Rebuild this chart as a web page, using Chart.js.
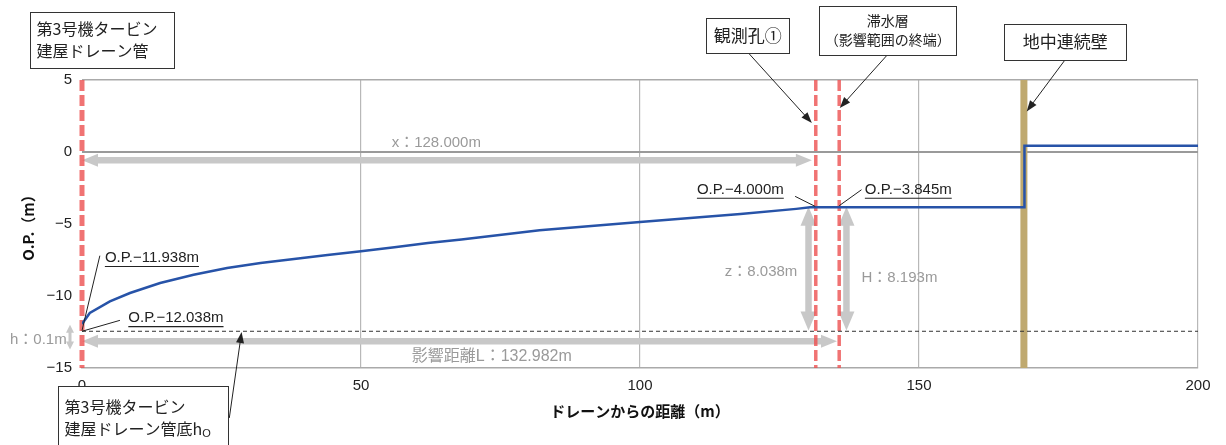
<!DOCTYPE html>
<html>
<head>
<meta charset="utf-8">
<script src="https://cdn.jsdelivr.net/npm/chart.js@4.4.1/dist/chart.umd.min.js"></script>
<style>body{margin:0;background:#fff}</style>
</head>
<body>
<canvas id="myChart" width="1226" height="445"></canvas>
<script>
// Distance from drain (m) and groundwater level O.P. (m)
const distX  = [0, 1.4, 5, 8.6, 14, 20, 26, 32, 38, 44, 50, 56, 62, 68, 82, 100, 118, 128, 130.5, 168.9, 168.9, 200];
const levelY = [-11.94, -11.18, -10.37, -9.79, -9.10, -8.52, -8.06, -7.71, -7.43, -7.15, -6.90, -6.62, -6.32, -6.07, -5.44, -4.86, -4.31, -3.95, -3.845, -3.845, 0.44, 0.44];
const drainBottom = -12.45;          // drain pipe bottom h0
const holeX = [0, 131.5, 135.7];      // drain, observation hole, end of influence
const wallX = 168.8;                  // diaphragm wall
const yTicks = [-15, 5];

const CJK = "'Noto Sans CJK JP', sans-serif";
const LAT = "'Liberation Sans', 'Noto Sans CJK JP', sans-serif";

// text boxes (centre in data coords)
const boxes = [
  { at: [3.6, 7.8], w: 144, h: 56, lines: ['第3号機タービン', '建屋ドレーン管'], size: 16, align: 'left' },
  { at: [119.3, 8.11], w: 83, h: 35, lines: ['観測孔①'], size: 17 },
  { at: [144.4, 8.46], w: 137, h: 49, lines: ['滞水層', '（影響範囲の終端）'], size: 14 },
  { at: [176.2, 7.66], w: 122, h: 36, lines: ['地中連続壁'], size: 17 },
  { at: [10.95, -18.9], w: 170, h: 76, lines: ['第3号機タービン', '建屋ドレーン管底h'], size: 16, align: 'left', sub: 'O' }
];
// black leader arrows
const leaders = [
  { from: [119.4, 6.89], to: [130.8, 2.01], head: true },
  { from: [144.2, 6.69], to: [135.8, 3.06], head: true },
  { from: [176.2, 6.41], to: [169.3, 2.82], head: true },
  { from: [26.4, -18.47], to: [28.6, -12.5], head: true },
  { from: [3.2, -7.2], to: [0, -12.4] },
  { from: [6.8, -11.69], to: [0, -12.45] },
  { from: [127.8, -3.08], to: [131.4, -3.78] },
  { from: [139.7, -2.62], to: [135.7, -3.73] }
];
const opLabels = [
  { at: [4.1, -7.36], text: 'O.P.−11.938m' },
  { at: [8.3, -11.53], text: 'O.P.−12.038m' },
  { at: [110.2, -2.62], text: 'O.P.−4.000m' },
  { at: [140.3, -2.62], text: 'O.P.−3.845m' }
];
const grayLabels = [
  { at: [55.5, 0.65], text: 'x：128.000m', size: 15 },
  { at: [59.1, -14.19], text: '影響距離L：132.982m', size: 16 },
  { at: [115.2, -8.29], text: 'z：8.038m', size: 15 },
  { at: [139.7, -8.75], text: 'H：8.193m', size: 15 },
  { at: [-12.9, -13.03], text: 'h：0.1m', size: 15 }
];
const grayArrows = [
  { from: [0, -0.58], to: [130.8, -0.58], width: 6.5, len: 16, head: 13 },
  { from: [0, -13.15], to: [135.3, -13.15], width: 6.5, len: 16, head: 13 },
  { from: [130.2, -3.8], to: [130.2, -12.4], width: 6.5, len: 19, head: 16 },
  { from: [137.0, -3.8], to: [137.0, -12.4], width: 6.5, len: 19, head: 16 },
  { from: [-2.15, -11.99], to: [-2.15, -13.72], width: 3, len: 8, head: 8 }
];

function toPx(chart, p) {
  return [chart.scales.x.getPixelForValue(p[0]), chart.scales.y.getPixelForValue(p[1])];
}

function arrowHead(ctx, x, y, ang, len, w) {
  const c = Math.cos(ang), s = Math.sin(ang);
  ctx.beginPath();
  ctx.moveTo(x, y);
  ctx.lineTo(x - len * c + w / 2 * s, y - len * s - w / 2 * c);
  ctx.lineTo(x - len * c - w / 2 * s, y - len * s + w / 2 * c);
  ctx.closePath();
  ctx.fill();
}

function arrow(ctx, a, b, width, len, head, both) {
  const ang = Math.atan2(b[1] - a[1], b[0] - a[0]);
  const c = Math.cos(ang), s = Math.sin(ang);
  const sa = both ? [a[0] + len * c * 0.8, a[1] + len * s * 0.8] : a;
  const sb = [b[0] - len * c * 0.8, b[1] - len * s * 0.8];
  ctx.lineWidth = width;
  ctx.beginPath();
  ctx.moveTo(sa[0], sa[1]);
  ctx.lineTo(sb[0], sb[1]);
  ctx.stroke();
  arrowHead(ctx, b[0], b[1], ang, len, head);
  if (both) arrowHead(ctx, a[0], a[1], ang + Math.PI, len, head);
}

const notes = {
  id: 'notes',
  beforeDatasetsDraw(chart) {
    const ctx = chart.ctx;
    ctx.save();
    ctx.strokeStyle = '#c8c8c8';
    ctx.fillStyle = '#c8c8c8';
    grayArrows.forEach(g => arrow(ctx, toPx(chart, g.from), toPx(chart, g.to), g.width, g.len, g.head, true));
    ctx.restore();
  },
  afterDraw(chart) {
    const ctx = chart.ctx;
    ctx.save();
    // leaders
    ctx.strokeStyle = '#222';
    ctx.fillStyle = '#222';
    leaders.forEach(l => {
      const a = toPx(chart, l.from), b = toPx(chart, l.to);
      if (l.head) {
        arrow(ctx, a, b, 1, 11, 8, false);
      } else {
        ctx.lineWidth = 1;
        ctx.beginPath(); ctx.moveTo(a[0], a[1]); ctx.lineTo(b[0], b[1]); ctx.stroke();
      }
    });
    // boxes
    boxes.forEach(bx => {
      const c = toPx(chart, bx.at);
      const x0 = Math.round(c[0] - bx.w / 2) + 0.5, y0 = Math.round(c[1] - bx.h / 2) + 0.5;
      ctx.fillStyle = '#fff';
      ctx.fillRect(x0, y0, bx.w, bx.h);
      ctx.strokeStyle = '#333';
      ctx.lineWidth = 1;
      ctx.strokeRect(x0, y0, bx.w, bx.h);
      ctx.fillStyle = '#222';
      ctx.font = bx.size + 'px ' + CJK;
      ctx.textBaseline = 'middle';
      const lh = bx.size * 1.4;
      const top = bx.sub ? y0 + 20 : c[1] - lh * (bx.lines.length - 1) / 2;
      bx.lines.forEach((t, i) => {
        const y = top + i * lh;
        if (bx.align === 'left') {
          ctx.textAlign = 'left';
          ctx.fillText(t, x0 + 6, y);
          if (bx.sub && i === bx.lines.length - 1) {
            const w = ctx.measureText(t).width;
            ctx.font = '11px ' + LAT;
            ctx.fillText(bx.sub, x0 + 6 + w, y + 5);
            ctx.font = bx.size + 'px ' + CJK;
          }
        } else {
          ctx.textAlign = 'center';
          ctx.fillText(t, c[0], y);
        }
      });
    });
    // O.P. labels, underlined
    ctx.font = '15px ' + LAT;
    ctx.textAlign = 'left';
    ctx.textBaseline = 'middle';
    ctx.fillStyle = '#222';
    ctx.strokeStyle = '#222';
    opLabels.forEach(l => {
      const p = toPx(chart, l.at);
      ctx.fillText(l.text, p[0], p[1]);
      const w = ctx.measureText(l.text).width;
      ctx.lineWidth = 1.2;
      ctx.beginPath(); ctx.moveTo(p[0], p[1] + 8.5); ctx.lineTo(p[0] + w, p[1] + 8.5); ctx.stroke();
    });
    ctx.fillStyle = '#9a9a9a';
    grayLabels.forEach(l => {
      const p = toPx(chart, l.at);
      ctx.font = l.size + 'px ' + LAT;
      ctx.fillText(l.text, p[0], p[1]);
    });
    ctx.restore();
  }
};

function vline(x, width, color, dash) {
  return {
    data: [{ x: x, y: yTicks[1] }, { x: x, y: yTicks[0] }],
    borderColor: color, borderWidth: width, borderDash: dash || [],
    pointRadius: 0, clip: false
  };
}

const redDash = 'rgba(236, 80, 80, 0.8)';
const ctx = document.getElementById('myChart').getContext('2d');
const myChart = new Chart(ctx, {
  type: 'line',
  data: {
    datasets: [
      {
        data: distX.map((x, i) => ({ x: x, y: levelY[i] })),
        borderColor: '#2753a8', borderWidth: 2.5, pointRadius: 0, tension: 0
      },
      {
        data: [{ x: 0, y: drainBottom }, { x: 200, y: drainBottom }],
        borderColor: '#333', borderWidth: 1, borderDash: [4, 3], pointRadius: 0
      },
      vline(holeX[0], 5, redDash, [11, 4]),
      vline(holeX[1], 3.5, redDash, [11, 4]),
      vline(holeX[2], 3.5, redDash, [11, 4]),
      vline(wallX, 7, '#bfa96f')
    ]
  },
  options: {
    responsive: false,
    animation: false,
    layout: { padding: { top: 80, right: 28, left: 0, bottom: 0 } },
    plugins: { legend: { display: false }, tooltip: { enabled: false } },
    scales: {
      x: {
        type: 'linear', min: 0, max: 200,
        afterFit: s => { s.height = 77; },
        ticks: { stepSize: 50, padding: 9, color: '#222', font: { size: 15, family: LAT } },
        grid: { color: c => c.tick.value === 0 ? 'rgba(0,0,0,0)' : '#b8b8b8', lineWidth: 1.2, drawTicks: false },
        border: { color: '#aaa', width: 1.5 },
        title: { display: true, text: 'ドレーンからの距離（m）', color: '#111', padding: { bottom: 25 },
                 font: { size: 15, weight: 'bold', family: CJK } }
      },
      y: {
        min: yTicks[0], max: yTicks[1],
        afterFit: s => { s.width = 82; },
        ticks: { stepSize: 5, padding: 10, color: '#222', font: { size: 15, family: LAT },
                 callback: v => String(v).replace('-', '−') },
        grid: {
          color: c => c.tick.value === 0 ? '#9a9a9a' : (c.tick.value === 5 ? '#aaa' : 'rgba(0,0,0,0)'),
          lineWidth: c => c.tick.value === 0 ? 2 : 1.5, drawTicks: false
        },
        border: { display: false },
        title: { display: true, text: 'O.P.（m）', color: '#111', padding: { top: 19 },
                 font: { size: 15, weight: 'bold', family: CJK } }
      }
    }
  },
  plugins: [notes]
});
</script>
</body>
</html>
